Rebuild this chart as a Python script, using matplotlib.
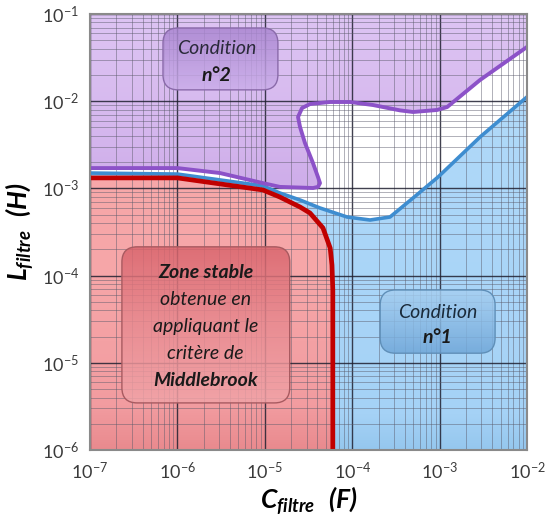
import matplotlib
matplotlib.use("Agg")
import numpy as np
import matplotlib.pyplot as plt
from matplotlib.patches import FancyBboxPatch, Polygon
from matplotlib.colors import LinearSegmentedColormap
from matplotlib.ticker import LogLocator, FixedLocator

plt.rcParams['font.family'] = ['Lato', 'DejaVu Sans']
plt.rcParams['mathtext.fontset'] = 'custom'
plt.rcParams['mathtext.rm'] = 'Lato'
plt.rcParams['mathtext.bf'] = 'Lato:italic:bold'
plt.rcParams['mathtext.it'] = 'Lato:italic'

# ---------------- data ----------------
x_ticks = [1e-7, 1e-6, 1e-5, 1e-4, 1e-3, 1e-2]
x_tick_labels = [r"$10^{-7}$", r"$10^{-6}$", r"$10^{-5}$", r"$10^{-4}$", r"$10^{-3}$", r"$10^{-2}$"]
y_ticks = [1e-6, 1e-5, 1e-4, 1e-3, 1e-2, 1e-1]
y_tick_labels = [r"$10^{-6}$", r"$10^{-5}$", r"$10^{-4}$", r"$10^{-3}$", r"$10^{-2}$", r"$10^{-1}$"]

# Condition n°2 boundary (purple)
cond2_C = [1e-7, 1e-6, 3.07e-6, 9.5e-6, 1.49e-5, 3.56e-5, 4.06e-5, 4.28e-5, 4.06e-5, 3.56e-5,
           2.88e-5, 2.53e-5, 2.40e-5, 2.67e-5, 3.29e-5, 5.57e-5, 9.44e-5, 1.73e-4,
           3.52e-4, 4.97e-4, 9.33e-4, 1.22e-3, 2.90e-3, 1e-2]
cond2_L = [1.71e-3, 1.71e-3, 1.50e-3, 1.15e-3, 1.04e-3, 1.01e-3, 1.04e-3, 1.15e-3, 1.35e-3, 1.95e-3,
           3.32e-3, 5.06e-3, 6.59e-3, 8.35e-3, 9.28e-3, 9.79e-3, 9.79e-3, 9.04e-3,
           7.85e-3, 7.52e-3, 7.93e-3, 8.57e-3, 1.75e-2, 4.19e-2]

# Condition n°1 boundary (blue)
cond1_C = [1e-7, 1e-6, 9.5e-6, 1.49e-5, 2.53e-5, 4.28e-5, 8.73e-5, 1.60e-4, 2.71e-4,
           4.97e-4, 9.6e-4, 2.90e-3, 1e-2]
cond1_L = [1.50e-3, 1.46e-3, 1.07e-3, 8.85e-4, 7.36e-4, 5.96e-4, 4.70e-4, 4.34e-4, 4.70e-4,
           7.76e-4, 1.35e-3, 3.88e-3, 1.12e-2]

# Middlebrook stable zone boundary (red)
mid_C = [1e-7, 1e-6, 9.5e-6, 1.49e-5, 2.53e-5, 3.29e-5, 4.63e-5, 5.6e-5, 5.87e-5, 6.0e-5, 6.0e-5]
mid_L = [1.32e-3, 1.32e-3, 9.6e-4, 7.96e-4, 6.12e-4, 5.22e-4, 3.52e-4, 2.07e-4, 1.32e-4, 6.8e-5, 1e-6]

xmin, xmax = 1e-7, 1e-2
ymin, ymax = 1e-6, 1e-1

# ---------------- figure ----------------
fig = plt.figure(figsize=(5.46, 5.2), dpi=100)
ax = fig.add_axes([90/546, 1-450/520, 437/546, 436/520])
ax.set_xscale('log')
ax.set_yscale('log')
ax.set_xlim(xmin, xmax)
ax.set_ylim(ymin, ymax)


def vgrad(clip, stops, z, x0=0, x1=1, y0=0, y1=1):
    """vertical gradient image (stops: list of (pos, color) from bottom to top) clipped to patch"""
    cmap = LinearSegmentedColormap.from_list('g', stops)
    img = np.linspace(0, 1, 256).reshape(-1, 1)
    im = ax.imshow(img, cmap=cmap, origin='lower', aspect='auto', extent=[x0, x1, y0, y1],
                   transform=ax.transAxes, zorder=z, interpolation='bilinear')
    im.set_clip_path(clip)
    return im


# regions
p2 = Polygon(list(zip(cond2_C + [xmax, xmin], cond2_L + [ymax, ymax])), closed=True,
             fc='none', ec='none', transform=ax.transData)
ax.add_patch(p2)
p1 = Polygon(list(zip(cond1_C + [xmax, xmin], cond1_L + [ymin, ymin])), closed=True,
             fc='none', ec='none', transform=ax.transData)
ax.add_patch(p1)
p0 = Polygon(list(zip(mid_C + [xmin], mid_L + [ymin])), closed=True,
             fc='none', ec='none', transform=ax.transData)
ax.add_patch(p0)

vgrad(p2, [(0.0, '#C9A6E6'), (0.62, '#CFAEEA'), (0.75, '#D6B8EE'), (1.0, '#DDC4F3')], 1.0)
vgrad(p1, [(0.0, '#95C7EE'), (0.08, '#A5D2F6'), (0.5, '#ABD6F8'), (1.0, '#B4DBF8')], 1.0)
vgrad(p0, [(0.0, '#E98A8E'), (0.1, '#F29CA0'), (0.4, '#F6A6A8'), (1.0, '#F7AAAB')], 1.1)

# grid
ax.set_axisbelow(False)
ax.xaxis.set_minor_locator(LogLocator(base=10, subs=[2, 3, 4, 5, 6, 7, 8, 9], numticks=20))
ax.yaxis.set_minor_locator(LogLocator(base=10, subs=[2, 3, 4, 5, 6, 7, 8, 9], numticks=20))
ax.grid(which='major', color='#202030', lw=1.0, alpha=0.85)
ax.grid(which='minor', color='#5a5a6a', lw=0.55, alpha=0.6)

# curves
kw = dict(solid_joinstyle='round', solid_capstyle='round')
ax.plot(cond1_C, cond1_L, color='#3E8DD0', lw=2.6, zorder=3, **kw)
ax.plot(cond2_C, cond2_L, color='#8C52C8', lw=2.8, zorder=3.1, **kw)
ax.plot(mid_C, mid_L, color='#C00000', lw=3.4, zorder=3.2, **kw)

# ticks
ax.xaxis.set_major_locator(FixedLocator(x_ticks))
ax.yaxis.set_major_locator(FixedLocator(y_ticks))
ax.set_xticklabels(x_tick_labels, fontsize=13, color='#3a3a3a')
ax.set_yticklabels(y_tick_labels, fontsize=13, color='#3a3a3a')
ax.tick_params(which='both', length=0, pad=8)
for s in ax.spines.values():
    s.set_color('#8a8a8a')
    s.set_linewidth(1.5)
    s.set_zorder(6)

ax.set_xlabel(r"$\mathbf{C_{filtre}\ \ (F)}$", fontsize=19, labelpad=2)
ax.set_ylabel(r"$\mathbf{L_{filtre}\ \ (H)}$", fontsize=19, labelpad=4)


# text boxes
def box(x0, y0, x1, y1, stops, ec):
    p = FancyBboxPatch((x0, y0), x1 - x0, y1 - y0,
                       boxstyle="round,pad=0,rounding_size=0.035",
                       transform=ax.transAxes, fc='none', ec=ec, lw=1.0, zorder=4.5)
    ax.add_patch(p)
    im = vgrad(p, stops, 4.0, x0, x1, y0, y1)
    im.set_alpha(0.84)


box(0.167, 0.826, 0.430, 0.968, [(0, '#CBAEEA'), (1, '#A985D0')], '#8A6AAA')
ax.text(0.29, 0.920, "Condition", transform=ax.transAxes, ha='center', va='center',
        fontsize=14, style='italic', color='#2a2a3a', zorder=5)
ax.text(0.29, 0.858, "n°2", transform=ax.transAxes, ha='center', va='center',
        fontsize=14, style='italic', weight='bold', color='#1a1a1a', zorder=5)

box(0.664, 0.222, 0.927, 0.367, [(0, '#6FA6D8'), (1, '#A9D1F2')], '#5F8FB8')
ax.text(0.795, 0.315, "Condition", transform=ax.transAxes, ha='center', va='center',
        fontsize=14, style='italic', color='#1a2a3a', zorder=5)
ax.text(0.795, 0.258, "n°1", transform=ax.transAxes, ha='center', va='center',
        fontsize=14, style='italic', weight='bold', color='#1a1a1a', zorder=5)

box(0.073, 0.108, 0.457, 0.466, [(0, '#F1A4A8'), (0.5, '#E88A90'), (1, '#D9646C')], '#A85A60')
lines = [("Zone stable", 'bold'), ("obtenue en", 'normal'), ("appliquant le", 'normal'),
         ("critère de", 'normal'), ("Middlebrook", 'bold')]
for i, (t, w) in enumerate(lines):
    ax.text(0.265, 0.408 - i * 0.062, t, transform=ax.transAxes, ha='center', va='center',
            fontsize=14, style='italic', weight=w, color='#1a1a1a', zorder=5)

ax.set_xlim(xmin, xmax)
ax.set_ylim(ymin, ymax)
fig.savefig("out.png", dpi=100)
